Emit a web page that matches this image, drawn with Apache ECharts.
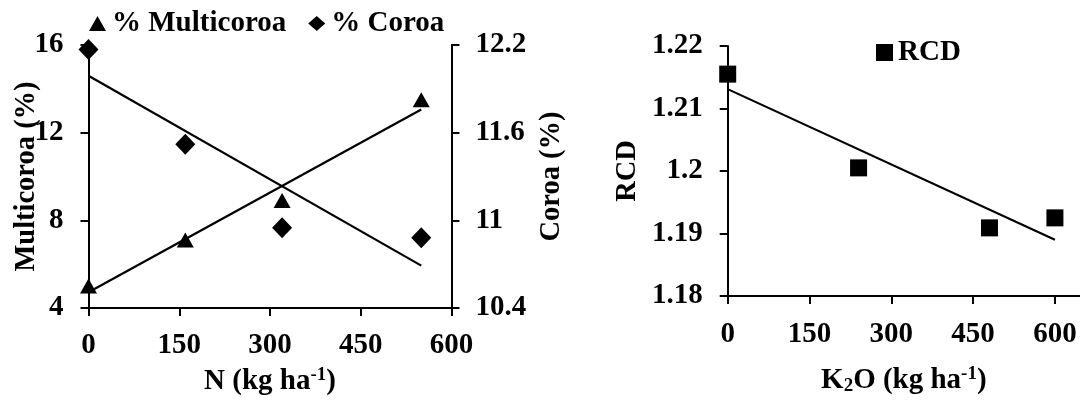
<!DOCTYPE html>
<html>
<head>
<meta charset="utf-8">
<script src="https://cdn.jsdelivr.net/npm/echarts@6/dist/echarts.min.js"></script>
<style>
html,body{margin:0;padding:0;background:#fff;}
#c{width:1080px;height:401px;}
</style>
</head>
<body>
<div id="c"></div>
<script>
// ---- data ----
const nLevels = [0, 160, 320, 550];
const multicoroa = [5.0, 7.1, 8.9, 13.5];
const coroa = [12.17, 11.52, 10.95, 10.88];
const nTrendX = [0, 550];
const multicoroaTrend = [4.72, 13.06];
const coroaTrend = [11.99, 10.69];

const k2oLevels = [0, 240, 480, 600];
const rcd = [1.2155, 1.2005, 1.1909, 1.1925];
const kTrendX = [0, 600];
const rcdTrend = [1.2131, 1.1890];

const nTicks = [0, 150, 300, 450, 600];
const multiTicks = [4, 8, 12, 16];
const coroaTicks = [10.4, 11, 11.6, 12.2];
const kTicks = [0, 150, 300, 450, 600];
const rcdTicks = [1.18, 1.19, 1.2, 1.21, 1.22];

const pairs = (xs, ys) => xs.map((x, i) => [x, ys[i]]);

const FONT = '"Liberation Serif", "Times New Roman", serif';
const txt = { fontFamily: FONT, fontWeight: 'bold', fontSize: 29, color: '#000' };
const legTxt = { fontFamily: FONT, fontWeight: 'bold', fontSize: 29, color: '#000' };
const vtxt = { fontFamily: FONT, fontWeight: 'bold', fontSize: 28.5, color: '#000' };
const axisLine = { show: true, lineStyle: { color: '#000', width: 2 } };
const axisTick = { show: true, inside: false, length: 8, lineStyle: { color: '#000', width: 2 } };
const label = (m) => Object.assign({ margin: m }, txt);
const rich = {
  sup: { fontFamily: FONT, fontWeight: 'bold', fontSize: 19, color: '#000', verticalAlign: 'top', padding: [0, 0, 12, 0] },
  sub: { fontFamily: FONT, fontWeight: 'bold', fontSize: 19, color: '#000', padding: [12, 0, 0, 0] }
};
const nameStyle = Object.assign({ rich: rich }, txt);
const vNameStyle = Object.assign({}, vtxt);
const step = a => a[1] - a[0];
const black = { color: '#000', opacity: 1 };

const chart = echarts.init(document.getElementById('c'), null, { renderer: 'canvas' });
chart.setOption({
  animation: false,
  backgroundColor: '#fff',
  grid: [
    { left: 88.5, top: 45, width: 363, height: 264 },
    { left: 727.7, top: 46, width: 354.3, height: 254 }
  ],
  legend: [
    {
      data: [
        { name: '% Multicoroa', icon: 'triangle', itemStyle: black },
        { name: '% Coroa', icon: 'diamond', itemStyle: black }
      ],
      left: 84, top: 4, itemWidth: 17, itemHeight: 15, itemGap: 22,
      textStyle: Object.assign({ padding: [0, 0, 0, 1] }, legTxt),
      selectedMode: false
    },
    {
      data: [{ name: 'RCD', icon: 'rect', itemStyle: black }],
      left: 871, top: 33, itemWidth: 17, itemHeight: 17, itemGap: 10,
      textStyle: Object.assign({ padding: [0, 0, 0, 0] }, legTxt),
      selectedMode: false
    }
  ],
  xAxis: [
    {
      gridIndex: 0, type: 'value', min: nTicks[0], max: nTicks[nTicks.length - 1], interval: step(nTicks),
      axisLine: axisLine, axisTick: axisTick, splitLine: { show: false },
      axisLabel: label(23),
      name: 'N (kg ha{sup|-1})', nameLocation: 'middle', nameGap: 58, nameTextStyle: nameStyle
    },
    {
      gridIndex: 1, type: 'value', min: kTicks[0], max: 646, interval: step(kTicks),
      axisLine: axisLine, axisTick: axisTick, splitLine: { show: false },
      axisLabel: Object.assign({ showMaxLabel: false }, label(24)),
      name: 'K{sub|2}O (kg ha{sup|-1})', nameLocation: 'middle', nameGap: 69, nameTextStyle: nameStyle,
      nameMoveOverlap: false
    }
  ],
  yAxis: [
    {
      gridIndex: 0, type: 'value', position: 'left', min: multiTicks[0], max: multiTicks[multiTicks.length - 1], interval: step(multiTicks),
      axisLine: axisLine, axisTick: axisTick, splitLine: { show: false },
      axisLabel: label(25),
      name: 'Multicoroa (%)', nameLocation: 'middle', nameRotate: 90, nameGap: 47, nameTextStyle: vNameStyle,
      nameMoveOverlap: false
    },
    {
      gridIndex: 0, type: 'value', position: 'right', min: coroaTicks[0], max: coroaTicks[coroaTicks.length - 1], interval: 0.6,
      axisLine: axisLine, axisTick: axisTick, splitLine: { show: false },
      axisLabel: Object.assign({ formatter: v => String(+v.toFixed(1)) }, label(24)),
      name: 'Coroa (%)', nameLocation: 'middle', nameRotate: 90, nameGap: 86, nameTextStyle: vNameStyle,
      nameMoveOverlap: false
    },
    {
      gridIndex: 1, type: 'value', position: 'left', min: rcdTicks[0], max: rcdTicks[rcdTicks.length - 1], interval: 0.01,
      axisLine: axisLine, axisTick: axisTick, splitLine: { show: false },
      axisLabel: Object.assign({ formatter: v => String(+v.toFixed(2)) }, label(25)),
      name: 'RCD', nameLocation: 'middle', nameRotate: 90, nameGap: 86, nameTextStyle: vNameStyle,
      nameMoveOverlap: false
    }
  ],
  series: [
    {
      name: 'tendMulti', type: 'line', xAxisIndex: 0, yAxisIndex: 0, data: pairs(nTrendX, multicoroaTrend),
      symbol: 'none', lineStyle: { color: '#000', width: 2.2, opacity: 1 }, silent: true, z: 1
    },
    {
      name: 'tendCoroa', type: 'line', xAxisIndex: 0, yAxisIndex: 1, data: pairs(nTrendX, coroaTrend),
      symbol: 'none', lineStyle: { color: '#000', width: 2.2, opacity: 1 }, silent: true, z: 1
    },
    {
      name: 'tendRCD', type: 'line', xAxisIndex: 1, yAxisIndex: 2, data: pairs(kTrendX, rcdTrend),
      symbol: 'none', lineStyle: { color: '#000', width: 2.2, opacity: 1 }, silent: true, z: 1
    },
    {
      name: '% Multicoroa', type: 'scatter', xAxisIndex: 0, yAxisIndex: 0, data: pairs(nLevels, multicoroa),
      symbol: 'triangle', symbolSize: [17, 15], itemStyle: black, clip: false, z: 3
    },
    {
      name: '% Coroa', type: 'scatter', xAxisIndex: 0, yAxisIndex: 1, data: pairs(nLevels, coroa),
      symbol: 'diamond', symbolSize: [20, 21], itemStyle: black, clip: false, z: 3
    },
    {
      name: 'RCD', type: 'scatter', xAxisIndex: 1, yAxisIndex: 2, data: pairs(k2oLevels, rcd),
      symbol: 'rect', symbolSize: 17, itemStyle: black, clip: false, z: 3
    }
  ]
});
</script>
</body>
</html>
